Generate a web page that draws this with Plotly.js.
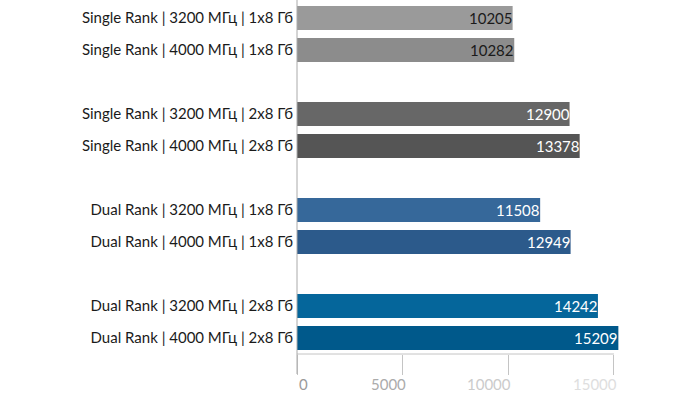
<!DOCTYPE html>
<html>
<head>
<meta charset="utf-8">
<script src="https://cdn.plot.ly/plotly-3.0.1.min.js"></script>
<style>html,body{margin:0;padding:0;background:#fff;}#chart{width:700px;height:395px;}</style>
</head>
<body>
<div id="chart"></div>
<script>
const categories = [
  "Single Rank | 3200 МГц | 1x8 Гб",
  "Single Rank | 4000 МГц | 1x8 Гб",
  "Single Rank | 3200 МГц | 2x8 Гб",
  "Single Rank | 4000 МГц | 2x8 Гб",
  "Dual Rank | 3200 МГц | 1x8 Гб",
  "Dual Rank | 4000 МГц | 1x8 Гб",
  "Dual Rank | 3200 МГц | 2x8 Гб",
  "Dual Rank | 4000 МГц | 2x8 Гб"
];
const values = [10205, 10282, 12900, 13378, 11508, 12949, 14242, 15209];
const barColors = ["#9a9a9a", "#8c8c8c", "#676767", "#555555", "#36689a", "#2c5a8b", "#05669b", "#00598b"];
const textColors = ["#1a1a1a", "#1a1a1a", "#ffffff", "#ffffff", "#ffffff", "#ffffff", "#ffffff", "#ffffff"];
const tickValues = [0, 5000, 10000, 15000];
const tickLabels = ["0", "5000", "10000", "15000"];
const tickLabelColors = ["#9a9a9a", "#ababab", "#cbcbcb", "#dedede"];
const axisMax = 15000;

const groupSize = 2;
const pos = categories.map((c, i) => i + Math.floor(i / groupSize));
const nSlots = pos[pos.length - 1] + 1;
const rangeMax = Math.max(...values) * 1.002;

const trace = {
  type: "bar",
  orientation: "h",
  x: values,
  y: pos,
  width: 0.75,
  marker: { color: barColors },
  hoverinfo: "none"
};

const valueAnnotations = values.map((v, i) => ({
  x: v, y: pos[i], xref: "x", yref: "y",
  text: String(v), showarrow: false,
  xanchor: "right", yanchor: "middle", xshift: 2,
  font: { family: "Lato", size: 15, color: textColors[i] }
}));

const tickAnnotations = tickValues.map((t, i) => ({
  x: t, y: 0, xref: "x", yref: "paper",
  text: tickLabels[i], showarrow: false,
  xanchor: i === 0 ? "left" : "right", yanchor: "top",
  xshift: i === 0 ? 0 : 5, yshift: -19,
  font: { family: "Lato", size: 15, color: tickLabelColors[i] }
}));

const layout = {
  width: 700,
  height: 395,
  margin: { l: 297, r: 700 - 297 - Math.round(317 * rangeMax / axisMax), t: 2, b: 41 },
  paper_bgcolor: "#ffffff",
  plot_bgcolor: "#ffffff",
  showlegend: false,
  font: { family: "Lato", size: 15, color: "#1a1a1a" },
  xaxis: {
    range: [0, rangeMax],
    tickvals: tickValues,
    showticklabels: false,
    ticks: "outside",
    ticklen: 20,
    tickwidth: 1,
    tickcolor: "#c4c4c4",
    showline: false,
    showgrid: false,
    zeroline: false,
    fixedrange: true
  },
  yaxis: {
    range: [nSlots - 0.5, -0.5],
    tickvals: pos,
    ticktext: categories,
    ticks: "",
    ticklabelstandoff: 3,
    showgrid: false,
    zeroline: false,
    showline: false,
    tickfont: { family: "Lato", size: 15, color: "#1a1a1a" },
    fixedrange: true
  },
  annotations: valueAnnotations.concat(tickAnnotations),
  shapes: [
    {
      type: "line", xref: "x", yref: "paper",
      x0: 0, x1: axisMax, y0: 0, y1: 0,
      line: { color: "#c4c4c4", width: 1 }
    },
    {
      type: "line", xref: "paper", yref: "paper",
      x0: 0, x1: 0, y0: -20 / 352, y1: 1 + 2 / 352,
      line: { color: "#aaaaaa", width: 1 }
    }
  ]
};

Plotly.newPlot("chart", [trace], layout, { displayModeBar: false, staticPlot: true });
</script>
</body>
</html>
